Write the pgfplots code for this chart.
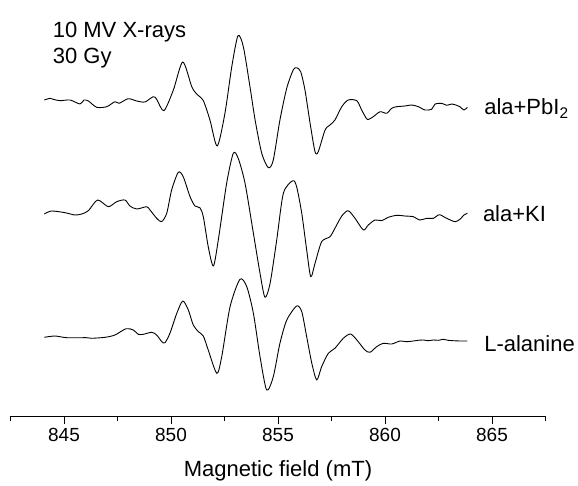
\documentclass[border=0pt]{standalone}
\usepackage{fontspec}
\setmainfont{Liberation Sans}
\usepackage{pgfplots}
\pgfplotsset{compat=1.18}

\pgfplotstableread{
x y
844.08 316
844.35 317.7
844.50 316.7
844.81 315.3
845.28 316
845.75 312
845.93 316
846.14 315
846.53 308.7
847.00 309.3
847.38 314.3
847.58 312.7
848.00 317.3
848.40 315
848.78 314
849.17 319.3
849.33 316.7
849.67 305.3
850.11 326
850.55 354
850.97 329.3
851.20 322
851.51 315.3
851.82 296
852.16 270
852.52 302.7
852.84 349.3
853.13 380.3
853.38 369.3
853.69 329.3
853.93 296
854.24 262.7
854.55 248.3
854.78 256
855.09 296
855.41 328
855.71 346
855.87 348.3
856.06 344.3
856.26 326
856.50 292.7
856.73 264.3
856.88 264.3
857.20 286
857.43 291
857.66 296
857.98 309.3
858.28 316
858.68 315.3
858.91 306
859.17 296.7
859.45 299.3
859.77 304.3
860.08 302.7
860.31 307.7
860.55 309.3
860.93 310
861.25 311
861.56 309.3
861.87 306
862.18 306.7
862.34 312
862.65 312.7
862.88 310.7
863.12 312
863.35 310.7
863.50 309.3
863.69 306
863.85 308.7
}\pbi

\pgfplotstableread{
x y
844.08 202
844.42 205
845.05 203.3
845.51 201
845.83 202
846.14 205.3
846.57 216
847.07 209.3
847.46 214.3
847.85 216
848.08 210
848.40 207
848.86 209.3
849.02 206
849.33 197.7
849.56 194.3
849.80 202.7
850.03 226
850.34 243.7
850.57 239.3
850.89 219.3
851.12 210
851.35 208.3
851.51 199.3
851.74 169.3
851.98 150
852.21 176
852.60 232.7
852.91 262.7
853.14 257.7
853.46 232.7
853.85 182.7
854.16 142.7
854.39 118.7
854.63 132.7
854.94 176
855.25 222.7
855.69 235.3
855.87 229.3
856.11 202.7
856.34 166
856.53 139.3
856.73 152.7
857.04 174.3
857.43 179.3
857.66 187.7
857.98 200
858.28 205.3
858.60 197.7
858.99 186
859.22 191
859.53 196
859.85 195.3
860.15 198.7
860.55 200.7
860.93 200
861.32 199.3
861.63 196
861.95 197.7
862.26 197.7
862.54 201.3
862.88 197.7
863.27 194.3
863.50 196.7
863.69 201
863.85 202.7
}\ki

\pgfplotstableread{
x y
844.08 78.7
844.58 80
845.13 78.3
846.06 78.3
846.29 77.7
846.92 78.7
847.38 81
847.90 87.3
848.24 86
848.47 81.7
848.71 81.7
849.10 83.7
849.33 81
849.57 74.3
849.72 73.3
849.95 82.7
850.27 102.7
850.55 115
850.81 106
851.04 91
851.28 84.3
851.51 80
851.74 66
852.14 42.7
852.37 59.3
852.76 109.3
853.22 136.7
853.54 129.3
853.85 102.7
854.16 59.3
854.47 26
854.78 39.3
855.09 72.7
855.41 96
855.87 110
856.11 104.3
856.34 79.3
856.58 52.7
856.81 36
857.04 49.3
857.35 62.7
857.66 67.7
858.05 77.7
858.40 82
858.75 74.3
859.06 66
859.30 63.7
859.61 69.3
859.92 72.7
860.31 72
860.70 75
861.00 74.3
861.32 75
861.55 75.7
861.79 76
862.02 75.3
862.26 76
862.50 75.7
862.72 76.7
862.95 75.7
863.19 75.3
863.50 75
863.85 75
}\alanine

\begin{document}
\begin{tikzpicture}
\useasboundingbox (-10.5pt,-69pt) rectangle (567.5pt,416pt);
\begin{axis}[
    scale only axis,
    width=535pt,
    height=416pt,
    xmin=842.5, xmax=867.5,
    ymin=0, ymax=416,
    clip=false,
    separate axis lines,
    axis x line*=bottom,
    axis y line=none,
    x axis line style={line width=1pt, black},
    xtick={845,850,855,860,865},
    minor xtick={842.5,847.5,...,867.5},
    xtick pos=bottom,
    xtick align=outside,
    major tick length=8pt,
    minor tick length=5pt,
    x tick style={line width=1pt, black},
    minor x tick style={line width=1pt, black},
    /pgf/number format/assume math mode=true,
    /pgf/number format/1000 sep={},
    xticklabel style={font=\fontsize{19}{22}\selectfont, yshift=-1pt},
    xlabel={Magnetic field (mT)},
    xlabel style={font=\fontsize{22}{26}\selectfont, yshift=-12pt},
    every axis plot/.append style={black, line width=0.9pt, line join=round},
]
\addplot[smooth, tension=0.45] table {\pbi};
\addplot[smooth, tension=0.45] table {\ki};
\addplot[smooth, tension=0.45] table {\alanine};

\node[anchor=base west, font=\fontsize{22}{26}\selectfont, inner sep=0pt] at (axis cs:844.47,378.7) {10 MV X-rays};
\node[anchor=base west, font=\fontsize{22}{26}\selectfont, inner sep=0pt] at (axis cs:844.47,352.7) {30 Gy};
\node[anchor=base west, font=\fontsize{22}{26}\selectfont, inner sep=0pt] at (axis cs:864.63,301) {ala+PbI\textsubscript{2}};
\node[anchor=base west, font=\fontsize{22}{26}\selectfont, inner sep=0pt] at (axis cs:864.57,194.3) {ala+KI};
\node[anchor=base west, font=\fontsize{22}{26}\selectfont, inner sep=0pt] at (axis cs:864.63,64.3) {L-alanine};
\end{axis}
\end{tikzpicture}
\end{document}
